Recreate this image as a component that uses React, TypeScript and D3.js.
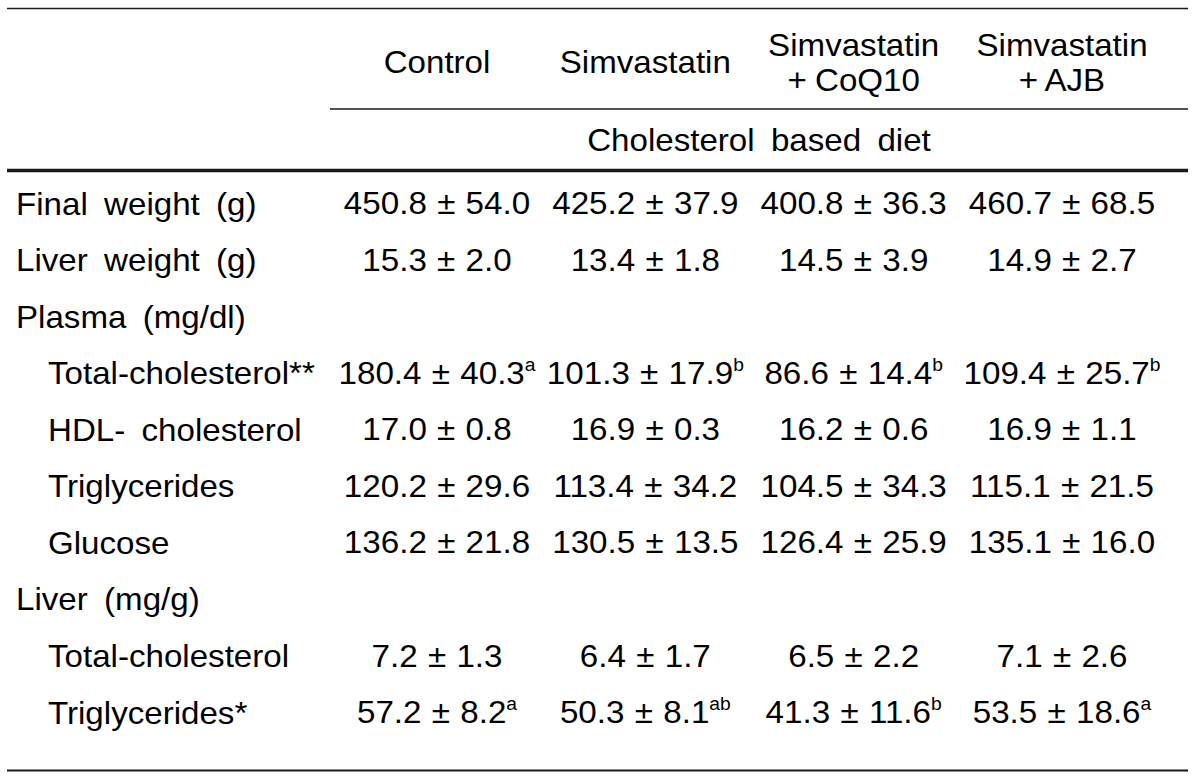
import React from "react";
import * as d3 from "d3";

const groups = ["Control", "Simvastatin", "Simvastatin + CoQ10", "Simvastatin + AJB"];
const headerLines: string[][] = [["Control"], ["Simvastatin"], ["Simvastatin", "+ CoQ10"], ["Simvastatin", "+ AJB"]];
const dietLabel = "Cholesterol\u00a0 based\u00a0 diet";

const rowLabels = [
  "Final\u00a0 weight\u00a0 (g)",
  "Liver\u00a0 weight\u00a0 (g)",
  "Plasma\u00a0 (mg/dl)",
  "Total-cholesterol**",
  "HDL-\u00a0 cholesterol",
  "Triglycerides",
  "Glucose",
  "Liver\u00a0 (mg/g)",
  "Total-cholesterol",
  "Triglycerides*",
];
const rowIndent = [false, false, false, true, true, true, true, false, true, true];

const means: (number | null)[][] = [
  [450.8, 425.2, 400.8, 460.7],
  [15.3, 13.4, 14.5, 14.9],
  [null, null, null, null],
  [180.4, 101.3, 86.6, 109.4],
  [17.0, 16.9, 16.2, 16.9],
  [120.2, 113.4, 104.5, 115.1],
  [136.2, 130.5, 126.4, 135.1],
  [null, null, null, null],
  [7.2, 6.4, 6.5, 7.1],
  [57.2, 50.3, 41.3, 53.5],
];
const sds: (number | null)[][] = [
  [54.0, 37.9, 36.3, 68.5],
  [2.0, 1.8, 3.9, 2.7],
  [null, null, null, null],
  [40.3, 17.9, 14.4, 25.7],
  [0.8, 0.3, 0.6, 1.1],
  [29.6, 34.2, 34.3, 21.5],
  [21.8, 13.5, 25.9, 16.0],
  [null, null, null, null],
  [1.3, 1.7, 2.2, 2.6],
  [8.2, 8.1, 11.6, 18.6],
];
const superscripts: string[][] = [
  ["", "", "", ""],
  ["", "", "", ""],
  ["", "", "", ""],
  ["a", "b", "b", "b"],
  ["", "", "", ""],
  ["", "", "", ""],
  ["", "", "", ""],
  ["", "", "", ""],
  ["", "", "", ""],
  ["a", "ab", "b", "a"],
];

const W = 1200;
const H = 778;
const FONT = "'Liberation Sans', Arial, Helvetica, sans-serif";
const FS_LABEL = 32;
const SX_LABEL = 1.035;
const FS_NUM = 31;
const SX_NUM = 1.07;

export default function App() {
  const x = d3.scalePoint<string>().domain(groups).range([437, 1062]);
  const y = d3.scalePoint<string>().domain(rowLabels.map((_, i) => String(i))).range([203, 712]);
  const fmt = d3.format(".1f");
  const lineColor = "#1a1a1a";

  const T = (
    cx: number,
    cy: number,
    anchor: string,
    children: React.ReactNode,
    key: string,
    fs: number = FS_LABEL,
    sx: number = SX_LABEL,
    extra: any = { wordSpacing: -1 }
  ) => (
    <g key={key} transform={`translate(${cx},${cy + fs * 0.36}) scale(${sx},1)`}>
      <text x={0} y={0} textAnchor={anchor} fontFamily={FONT} fontSize={fs} fill="#000" style={{ whiteSpace: "pre" }} {...extra}>
        {children}
      </text>
    </g>
  );

  return (
    <svg width={W} height={H} style={{ position: "absolute", left: 0, top: 0, background: "#fff" }}>
      <rect x={0} y={0} width={W} height={H} fill="#fff" />
      <line x1={7} x2={1188} y1={8.5} y2={8.5} stroke={lineColor} strokeWidth={1.6} />
      <line x1={330} x2={1188} y1={109} y2={109} stroke={lineColor} strokeWidth={1.6} />
      <line x1={7} x2={1188} y1={170.5} y2={170.5} stroke={lineColor} strokeWidth={3.5} />
      <line x1={7} x2={1188} y1={770.5} y2={770.5} stroke={lineColor} strokeWidth={2} />

      {groups.map((g, gi) => {
        const lines = headerLines[gi];
        const cx = x(g)!;
        if (lines.length === 1) return T(cx, 61, "middle", lines[0], `h${gi}`);
        return (
          <g key={`h${gi}`}>
            {T(cx, 44, "middle", lines[0], `h${gi}a`)}
            {T(cx, 79, "middle", lines[1], `h${gi}b`)}
          </g>
        );
      })}
      {T(759, 139, "middle", dietLabel, "diet")}

      {rowLabels.map((lab, ri) => {
        const cy = y(String(ri))!;
        return (
          <g key={`r${ri}`}>
            {T(rowIndent[ri] ? 48 : 16, cy, "start", lab, `l${ri}`)}
            {groups.map((g, gi) => {
              const m = means[ri][gi];
              const s = sds[ri][gi];
              if (m === null || s === null) return null;
              const sup = superscripts[ri][gi];
              return T(
                x(g)!,
                cy,
                "middle",
                <>
                  {`${fmt(m)} ± ${fmt(s)}`}
                  {sup ? (
                    <tspan fontSize={18} dy={-13}>
                      {sup}
                    </tspan>
                  ) : null}
                </>,
                `c${ri}-${gi}`,
                FS_NUM,
                SX_NUM,
                { wordSpacing: 1 }
              );
            })}
          </g>
        );
      })}
    </svg>
  );
}
